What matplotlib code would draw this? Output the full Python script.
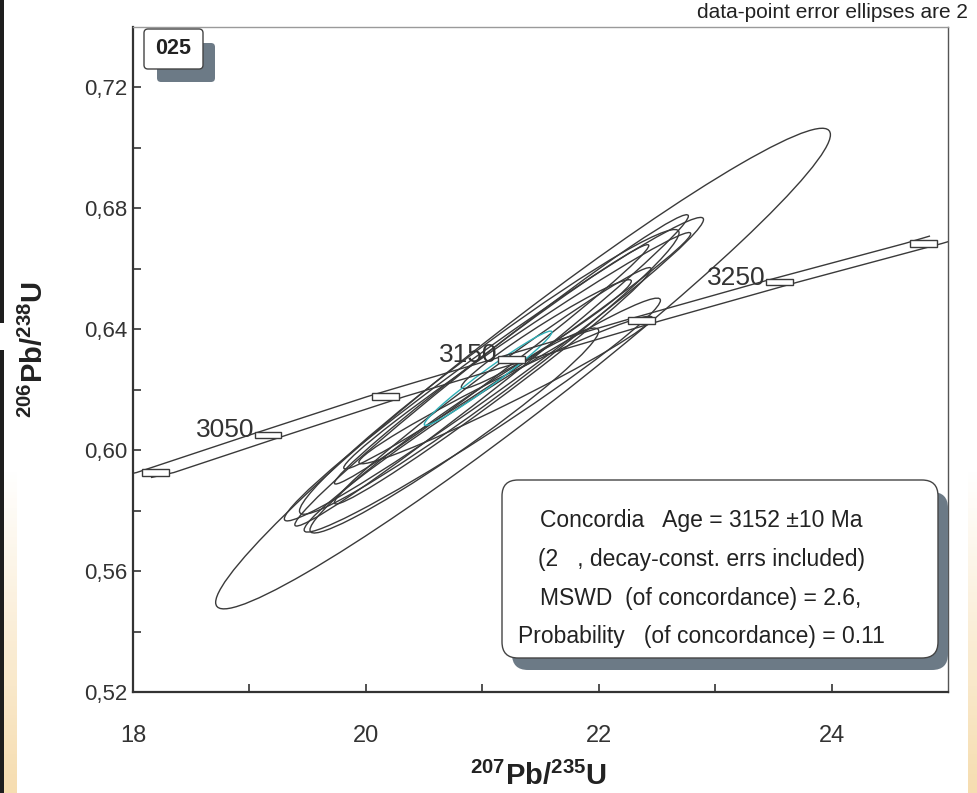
import numpy as np
import matplotlib.pyplot as plt
from matplotlib.patches import Circle, Rectangle, FancyBboxPatch
from matplotlib.transforms import Affine2D, IdentityTransform
from matplotlib.colors import LinearSegmentedColormap

plt.rcParams['font.family'] = ['Liberation Sans', 'DejaVu Sans']
plt.rcParams['mathtext.fontset'] = 'custom'
plt.rcParams['mathtext.rm'] = 'Liberation Sans'
plt.rcParams['mathtext.bf'] = 'Liberation Sans:bold'

# concordia curve
conc_x = [18.0, 18.19, 19.16, 20.17, 21.25, 22.37, 23.55, 24.79, 25.0]
conc_y = [0.5910, 0.5926, 0.6050, 0.6177, 0.6301, 0.6428, 0.6556, 0.6684, 0.6708]
conc_dx = 0.16  # half width of the decay-constant envelope

marker_ages = [3000, 3050, 3100, 3150, 3200, 3250, 3300]
marker_x = [18.19, 19.16, 20.17, 21.25, 22.37, 23.55, 24.79]
marker_y = [0.5926, 0.6050, 0.6177, 0.6301, 0.6428, 0.6556, 0.6684]
labelled_ages = [3050, 3150, 3250]

# data-point error ellipses: centre, 2s half widths, error correlation
ell_cx = [21.35, 21.10, 21.08, 21.00, 21.09, 21.08, 21.30, 21.20, 21.06, 21.55, 20.76]
ell_cy = [0.6270, 0.6268, 0.6264, 0.6116, 0.6213, 0.6284, 0.6329, 0.6199, 0.6259, 0.6384, 0.6065]
ell_sx = [2.64, 1.80, 1.69, 1.53, 1.36, 1.35, 1.49, 1.26, 1.63, 0.73, 1.24]
ell_sy = [0.0795, 0.0502, 0.0515, 0.0387, 0.0391, 0.0396, 0.0391, 0.0244, 0.0471, 0.0180, 0.0339]
ell_rho = [0.973, 0.986, 0.991, 0.981, 0.989, 0.992, 0.990, 0.979, 0.977, 0.973, 0.970]

# the highlighted (cyan) ellipse
cyan_cx, cyan_cy, cyan_sx, cyan_sy, cyan_rho = 21.05, 0.6238, 0.548, 0.0156, 0.978

x_ticks = [18, 20, 22, 24]
x_tick_labels = ['18', '20', '22', '24']
y_ticks = [0.52, 0.56, 0.60, 0.64, 0.68, 0.72]
y_tick_labels = ['0,52', '0,56', '0,60', '0,64', '0,68', '0,72']

legend_lines = ['Concordia   Age = 3152 \u00b110 Ma',
                '(2   , decay-const. errs included)',
                'MSWD  (of concordance) = 2.6,',
                'Probability   (of concordance) = 0.11']

W, H = 978, 793
line_col = '#3a3a3a'
shadow_col = '#6c7a86'


def fx(px):
    return px / W


def fy(py):
    return 1 - py / H


def add_ellipse(ax, cx, cy, sx, sy, rho, color, lw=1.0):
    m = np.array([[sx, 0, cx],
                  [sy * rho, sy * np.sqrt(1 - rho ** 2), cy],
                  [0, 0, 1]])
    ax.add_patch(Circle((0, 0), 1, transform=Affine2D(m) + ax.transData,
                        fill=False, ec=color, lw=lw))


fig = plt.figure(figsize=(W / 100, H / 100), dpi=100)

# screenshot edges: dark bar and pale orange strips
cmap = LinearSegmentedColormap.from_list('strip', ['#ffffff', '#f6ddb0'])
grad = np.linspace(0, 1, 100).reshape(-1, 1)
for x0, x1 in [(4, 17), (968, 978)]:
    sa = fig.add_axes([fx(x0), 0, fx(x1 - x0), fy(470)])
    sa.imshow(grad, aspect='auto', cmap=cmap, origin='upper')
    sa.axis('off')
fig.add_artist(Rectangle((0, 0), fx(4), fy(350), transform=fig.transFigure,
                         color='#1e1e1e', lw=0, zorder=8))
fig.add_artist(Rectangle((0, fy(323)), fx(4), 1 - fy(323), transform=fig.transFigure,
                         color='#1e1e1e', lw=0, zorder=8))

ax = fig.add_axes([fx(133), fy(692), fx(948 - 133), (692 - 27) / H])
ax.set_xlim(18, 25)
ax.set_ylim(0.52, 0.74)

# concordia envelope
cx_arr = np.array(conc_x)
ax.plot(cx_arr - conc_dx, conc_y, color=line_col, lw=1.0, zorder=2)
ax.plot(cx_arr + conc_dx, conc_y, color=line_col, lw=1.0, zorder=2)
for age, mx, my in zip(marker_ages, marker_x, marker_y):
    ax.add_patch(Rectangle((mx - 0.115, my - 0.0011), 0.23, 0.0022,
                           fc='white', ec=line_col, lw=1.0, zorder=3))
    if age in labelled_ages:
        ax.text(mx - 0.12, my - 0.0008, str(age), ha='right', va='baseline',
                fontsize=19, color='#333333', zorder=4)

for cx, cy, sx, sy, r in zip(ell_cx, ell_cy, ell_sx, ell_sy, ell_rho):
    add_ellipse(ax, cx, cy, sx, sy, r, line_col)
add_ellipse(ax, cyan_cx, cyan_cy, cyan_sx, cyan_sy, cyan_rho, '#2fb0b8')

ax.set_xticks(x_ticks)
ax.set_xticklabels(x_tick_labels)
ax.set_xticks(np.arange(19, 25, 2), minor=True)
ax.set_yticks(y_ticks)
ax.set_yticklabels(y_tick_labels)
ax.set_yticks(np.arange(0.54, 0.74, 0.04), minor=True)
ax.tick_params(which='both', direction='in', length=6, width=1.2, color='#333333',
               labelcolor='#333333', top=False, right=False)
ax.tick_params(axis='x', pad=24, labelsize=17)
ax.tick_params(axis='y', pad=4, labelsize=16)
for s in ['left', 'bottom']:
    ax.spines[s].set_color('#333333')
    ax.spines[s].set_linewidth(1.6)
ax.spines['top'].set_color('#9a9a9a')
ax.spines['right'].set_color('#555555')
ax.spines['top'].set_linewidth(1.0)
ax.spines['right'].set_linewidth(1.0)

# axis titles
fig.text(fx(538), fy(776), r'$\mathbf{^{207}Pb/^{235}U}$', ha='center', va='center',
         fontsize=21, color='#222222')
fig.text(fx(34), fy(350), r'$\mathbf{^{206}Pb/^{238}U}$', ha='center', va='center',
         rotation=90, fontsize=21, color='#222222')

fig.text(fx(968), fy(18), 'data-point error ellipses are 2', ha='right', va='baseline',
         fontsize=15, color='#222222')

# sample label box
tf = IdentityTransform()
fig.add_artist(FancyBboxPatch((157, H - 82), 58, 39, boxstyle='round,pad=0,rounding_size=4',
                              transform=tf, fc=shadow_col, ec='none', zorder=5))
fig.add_artist(FancyBboxPatch((144, H - 69), 59, 40, boxstyle='round,pad=0,rounding_size=4',
                              transform=tf, fc='white', ec='#444444', lw=1.0, zorder=6))
fig.text(fx(173.5), fy(49), '025', ha='center', va='center', fontsize=15.5,
         fontweight='bold', color='#222222', zorder=7)

# result box
fig.add_artist(FancyBboxPatch((512, H - 670), 436, 178, boxstyle='round,pad=0,rounding_size=16',
                              transform=tf, fc=shadow_col, ec='none', zorder=5))
fig.add_artist(FancyBboxPatch((502, H - 658), 436, 178, boxstyle='round,pad=0,rounding_size=16',
                              transform=tf, fc='white', ec='#444444', lw=1.0, zorder=6))
for i, line in enumerate(legend_lines):
    fig.text(fx(701), fy(521 + 38.5 * i), line, ha='center', va='center',
             fontsize=16.5, color='#222222', zorder=7)

fig.savefig('out.png', dpi=100)
